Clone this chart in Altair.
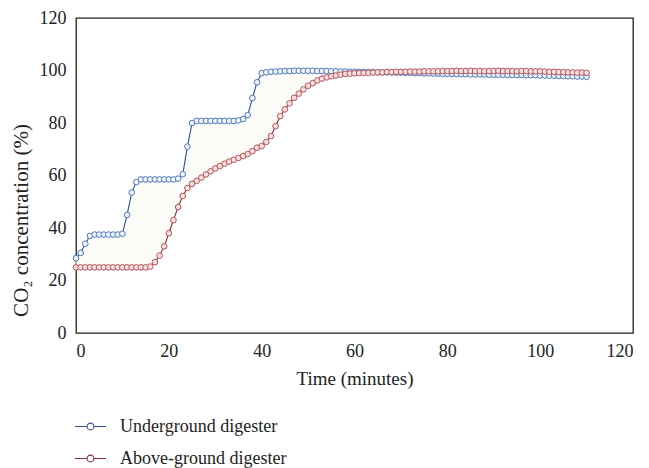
import altair as alt
import pandas as pd

minutes = list(range(0, 111))

underground = [
    28.5, 30.5, 34, 37, 37.5, 37.5, 37.5, 37.5, 37.5, 37.5, 37.8,
    45, 53.5, 57.5, 58.5, 58.5, 58.5, 58.5, 58.5, 58.5, 58.5, 58.5, 58.8,
    60.5, 71, 80, 80.8, 80.8, 80.8, 80.8, 80.8, 80.8, 80.8, 80.8, 80.8, 81, 81.5,
    83, 89.5, 95.5, 99, 99.3, 99.5, 99.6, 99.7, 99.8, 99.8, 99.9, 99.9, 99.9, 99.9,
    99.9, 99.8, 99.8, 99.8, 99.7, 99.7, 99.6, 99.6, 99.5, 99.5,
    99.5, 99.4, 99.4, 99.4, 99.3, 99.3, 99.3, 99.3, 99.2, 99.2,
    99.1, 99.1, 99.0, 99.0, 98.9, 98.9, 98.8, 98.8, 98.7, 98.7,
    98.7, 98.6, 98.6, 98.6, 98.5, 98.5, 98.5, 98.5, 98.4, 98.4,
    98.4, 98.4, 98.3, 98.3, 98.3, 98.3, 98.2, 98.2, 98.2, 98.1,
    98.1, 98.0, 98.0, 97.9, 97.9, 97.8, 97.8, 97.7, 97.7, 97.6,
]

above_ground = [
    25, 25, 25, 25, 25, 25, 25, 25, 25, 25, 25, 25, 25, 25, 25, 25, 25.3,
    27, 29.5, 33, 38, 43, 48, 52.2, 55.2, 56.8,
    58, 59.2, 60.4, 61.6, 62.7, 63.6, 64.5, 65.3, 66, 66.7,
    67.4, 68.2, 69.3, 70.6, 71.2, 72.8, 75, 78.8, 82.6, 85.2,
    87.5, 89.6, 91.2, 92.8, 94.2, 95.2, 96.2, 96.9, 97.4, 97.8,
    98.1, 98.4, 98.7, 98.8, 98.9,
    99.0, 99.1, 99.1, 99.2, 99.3, 99.3, 99.4, 99.4, 99.5, 99.5,
    99.5, 99.6, 99.6, 99.6, 99.7, 99.7, 99.7, 99.7, 99.8, 99.8,
    99.8, 99.9, 99.8, 99.8, 99.9, 99.8, 99.8, 99.7, 99.8, 99.8,
    99.9, 99.8, 99.8, 99.8, 99.7, 99.8, 99.8, 99.7, 99.7, 99.7,
    99.6, 99.5, 99.5, 99.4, 99.4, 99.3, 99.3, 99.2, 99.2, 99.1,
]

series_names = ["Underground digester", "Above-ground digester"]
line_colors = ["#2f4f95", "#8a2a3c"]
edge_colors = ["#5078ba", "#b25562"]
fill_colors = ["#eef4fb", "#f8e0da"]

rows = []
for name, vals in zip(series_names, [underground, above_ground]):
    for t, v in zip(minutes, vals):
        rows.append({"Time": t, "CO2": v, "Series": name})
df = pd.DataFrame(rows)

band = pd.DataFrame({"Time": minutes, "lo": above_ground, "hi": underground})

FONT = "Liberation Serif"

x = alt.X("Time:Q", scale=alt.Scale(domain=[0, 120], nice=False),
          axis=alt.Axis(values=[0, 20, 40, 60, 80, 100, 120], title="Time (minutes)",
                        titleFontSize=19))
y = alt.Y("CO2:Q", scale=alt.Scale(domain=[0, 120], nice=False),
          axis=alt.Axis(values=[0, 20, 40, 60, 80, 100, 120],
                        title="CO₂ concentration (%)", titleFontSize=21,
                        titleX=-55, titleY=202, titleBaseline="middle"))

area = alt.Chart(band).mark_area(color="#f9faf3", opacity=0.7).encode(
    x=alt.X("Time:Q"), y=alt.Y("lo:Q"), y2="hi:Q"
)

legend_path = ("M-1,0 L-0.22,0 M0.22,0 L1,0 "
               "M0.22,0 A0.22,0.22 0 1,1 -0.22,0 A0.22,0.22 0 1,1 0.22,0")

lines = alt.Chart(df).mark_line(strokeWidth=1.1).encode(
    x=x, y=y,
    color=alt.Color("Series:N",
                    scale=alt.Scale(domain=series_names, range=line_colors),
                    sort=series_names,
                    legend=alt.Legend(
                        title=None, orient="none", legendX=-2, legendY=392,
                        direction="vertical", symbolType=legend_path,
                        symbolSize=961, symbolStrokeWidth=1.1,
                        symbolFillColor="white", labelFont=FONT,
                        labelFontSize=18, labelColor="#222222", labelLimit=400,
                        labelOffset=13, rowPadding=6, padding=0)),
)

points = alt.Chart(df).mark_point(filled=False, size=32, strokeWidth=1, opacity=1).encode(
    x=x, y=y,
    stroke=alt.Stroke("Series:N", scale=alt.Scale(domain=series_names, range=edge_colors), legend=None),
    fill=alt.Fill("Series:N", scale=alt.Scale(domain=series_names, range=fill_colors), legend=None),
)

chart = alt.layer(area, lines, points).resolve_scale(
    color="independent", stroke="independent", fill="independent"
).properties(
    width=557, height=315,
    autosize=alt.AutoSizeParams(type="none"),
    padding={"left": 68, "top": 10, "right": 8, "bottom": 145},
).configure_view(
    stroke="#222222", strokeWidth=1.3
).configure_axis(
    grid=False, ticks=False, domain=False,
    labelFont=FONT, labelFontSize=18, labelColor="#222222",
    titleFont=FONT, titleFontWeight="normal", titleColor="#222222",
).configure_axisX(
    labelPadding=9, titlePadding=9
).configure_axisY(
    labelPadding=10
)

chart.save("out.html", embed_options={"renderer": "svg", "actions": False})
